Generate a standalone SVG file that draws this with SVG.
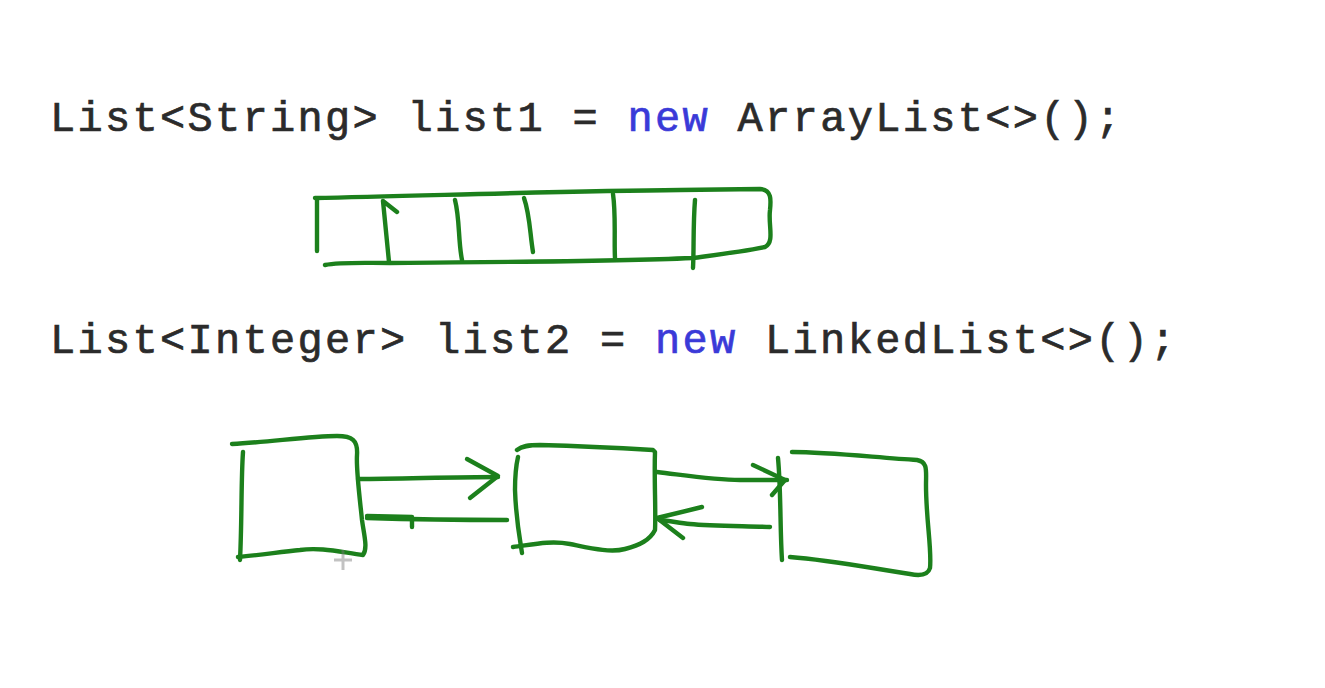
<svg xmlns="http://www.w3.org/2000/svg" width="1325" height="688" viewBox="0 0 1325 688">
<style>
.code{font-family:"Liberation Mono","DejaVu Sans Mono",monospace;font-size:42px;letter-spacing:2.3px;fill:#2b2b2b;stroke:#2b2b2b;stroke-width:0.7}
.kw{fill:#3a3ad8;stroke:#3a3ad8}
.ink{fill:none;stroke:#1c801c;stroke-width:4.4;stroke-linecap:round;stroke-linejoin:round}
</style>
<rect width="1325" height="688" fill="#ffffff"/>
<g id="code1"><text class="code" x="50" y="131">List&lt;String&gt; list1 = <tspan class="kw">new</tspan> ArrayList&lt;&gt;();</text></g>
<g id="arraylist">
<path class="ink" d="M317 199 L317 251"/>
<path class="ink" d="M315 198 C420 196 560 191 680 190 L760 189 C772 190 771 200 770 210 C768 225 775 242 765 247 C740 252 715 255 693 258 C600 262 480 262 390 263 C360 263 340 262 325 265"/>
<path class="ink" d="M383 201 L389 262 M383 201 L397 212"/>
<path class="ink" d="M455 200 C460 220 458 240 462 260"/>
<path class="ink" d="M524 198 C530 215 530 235 533 252"/>
<path class="ink" d="M613 194 C616 215 614 240 615 258"/>
<path class="ink" d="M695 200 C693 225 694 250 693 268"/>
</g>
<g id="code2"><text class="code" x="50" y="353">List&lt;Integer&gt; list2 = <tspan class="kw">new</tspan> LinkedList&lt;&gt;();</text></g>
<g id="node1">
<path class="ink" d="M232 444 C270 442 310 436 337 436 C352 436 358 440 357 455 C356 470 360 500 362 520 C364 535 368 548 363 555 C340 552 320 547 300 550 C280 552 260 555 238 557"/>
<path class="ink" d="M243 452 C241 480 242 520 240 560"/>
</g>
<g id="node2">
<path class="ink" d="M517 450 C522 446 528 445 540 445 C580 446 620 448 653 450 L655 452 C654 480 656 510 655 530 C650 540 640 545 625 549 C610 553 590 548 570 544 C550 540 530 545 513 547"/>
<path class="ink" d="M518 457 C515 470 515 480 515 490 C516 520 520 540 522 553"/>
</g>
<g id="node3">
<path class="ink" d="M778 458 C781 490 780 530 782 560"/>
<path class="ink" d="M792 452 C830 452 880 458 917 460 C928 462 926 470 926 485 C926 520 932 550 930 568 C928 575 920 576 910 574 C870 568 830 560 790 557"/>
</g>
<g id="connectors">
<path class="ink" d="M358 479 C400 479 450 477 498 477"/>
<path class="ink" d="M467 459 L498 476 L470 498"/>
<path class="ink" d="M367 518 C400 519 460 520 507 520"/>
<path class="ink" d="M367 516 L412 517 L412 527" stroke-width="6"/>
<path class="ink" d="M657 472 C690 476 715 480 740 480 L787 480"/>
<path class="ink" d="M753 465 L785 480 L772 495"/>
<path class="ink" d="M770 527 C740 526 710 526 690 524 C680 523 670 521 660 520"/>
<path class="ink" d="M702 507 L657 518 L683 538"/>
</g>
<g id="cursor" opacity="0.45">
<path d="M343 550 L343 570 M334 560 L352 560" stroke="#777" stroke-width="3" fill="none"/>
</g>
</svg>
